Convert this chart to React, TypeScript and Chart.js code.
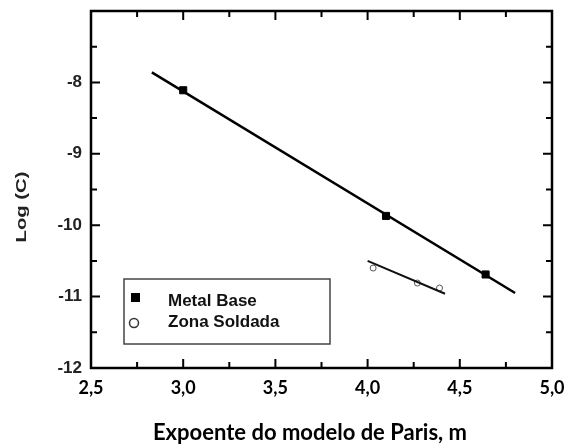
import React, { useEffect, useRef } from "react";
import { Chart, registerables } from "chart.js";

Chart.register(...registerables);

// Data
const metalBaseX = [3.0, 4.1, 4.64];
const metalBaseY = [-8.11, -9.87, -10.69];
const metalFitX = [2.83, 4.8];
const metalFitY = [-7.86, -10.95];
const zonaX = [4.03, 4.27, 4.39];
const zonaY = [-10.6, -10.81, -10.88];
const zonaFitX = [4.0, 4.42];
const zonaFitY = [-10.5, -10.96];

const xMin = 2.5, xMax = 5.0, xStep = 0.25;
const yMin = -12, yMax = -7, yStep = 0.5;
const legendLabels = ["Metal Base", "Zona Soldada"];
const xTitle = "Expoente do modelo de Paris, m";
const yTitle = "Log (C)";

const toPts = (xs: number[], ys: number[]) => xs.map((x, i) => ({ x, y: ys[i] }));

const framePlugin = {
  id: "frame",
  afterDraw(chart: any) {
    const { ctx, chartArea: a, scales } = chart;
    const xs = scales.x, ys = scales.y;
    ctx.save();
    ctx.strokeStyle = "#000";
    ctx.lineWidth = 2.5;
    ctx.strokeRect(a.left, a.top, a.right - a.left, a.bottom - a.top);
    ctx.lineWidth = 2;
    for (let v = xMin + xStep; v < xMax - 1e-6; v += xStep) {
      const px = xs.getPixelForValue(v);
      const major = Math.abs(v * 2 - Math.round(v * 2)) < 1e-6;
      const L = major ? 9 : 6;
      ctx.beginPath();
      ctx.moveTo(px, a.bottom); ctx.lineTo(px, a.bottom - L);
      ctx.moveTo(px, a.top); ctx.lineTo(px, a.top + L);
      ctx.stroke();
    }
    for (let v = yMin + yStep; v < yMax - 1e-6; v += yStep) {
      const py = ys.getPixelForValue(v);
      const major = Math.abs(v - Math.round(v)) < 1e-6;
      const L = major ? 9 : 6;
      ctx.beginPath();
      ctx.moveTo(a.left, py); ctx.lineTo(a.left + L, py);
      ctx.moveTo(a.right, py); ctx.lineTo(a.right - L, py);
      ctx.stroke();
    }
    // Legend box
    const lx = a.left + 33, ly = a.top + 268, lw = 206, lh = 65;
    ctx.lineWidth = 1.5;
    ctx.strokeStyle = "#444";
    ctx.fillStyle = "#fff";
    ctx.fillRect(lx, ly, lw, lh);
    ctx.strokeRect(lx, ly, lw, lh);
    ctx.fillStyle = "#000";
    ctx.fillRect(lx + 7, ly + 14, 9, 9);
    ctx.beginPath();
    ctx.lineWidth = 1.5;
    ctx.strokeStyle = "#333";
    ctx.arc(lx + 10, ly + 44, 4.5, 0, Math.PI * 2);
    ctx.stroke();
    ctx.fillStyle = "#111";
    ctx.font = "bold 17px 'Liberation Sans', Arial, sans-serif";
    ctx.textBaseline = "middle";
    ctx.textAlign = "left";
    ctx.fillText(legendLabels[0], lx + 44, ly + 22);
    ctx.fillText(legendLabels[1], lx + 44, ly + 43);
    // Titles
    ctx.fillStyle = "#000";
    ctx.font = "bold 22px Lato, 'Open Sans', sans-serif";
    ctx.textAlign = "center";
    ctx.fillText(xTitle, 310, 433);
    ctx.save();
    ctx.translate(22, 207);
    ctx.rotate(-Math.PI / 2);
    ctx.scale(1.35, 1);
    ctx.font = "bold 15px 'Liberation Sans', Arial, sans-serif";
    ctx.fillStyle = "#222";
    ctx.fillText(yTitle, 0, 0);
    ctx.restore();
    ctx.restore();
  },
};

export default function App() {
  const ref = useRef<HTMLCanvasElement | null>(null);
  useEffect(() => {
    document.body.style.margin = "0";
    const chart = new Chart(ref.current as HTMLCanvasElement, {
      type: "scatter",
      data: {
        datasets: [
          {
            type: "line",
            data: toPts(metalFitX, metalFitY),
            borderColor: "#000",
            borderWidth: 2.5,
            pointRadius: 0,
            showLine: true,
          },
          {
            type: "line",
            data: toPts(zonaFitX, zonaFitY),
            borderColor: "#111",
            borderWidth: 2,
            pointRadius: 0,
            showLine: true,
          },
          {
            label: legendLabels[0],
            data: toPts(metalBaseX, metalBaseY),
            pointStyle: "rect",
            pointRadius: 5,
            backgroundColor: "#000",
            borderColor: "#000",
          },
          {
            label: legendLabels[1],
            data: toPts(zonaX, zonaY),
            pointStyle: "circle",
            pointRadius: 3,
            backgroundColor: "rgba(255,255,255,0)",
            borderColor: "#555",
            borderWidth: 1,
          },
        ],
      },
      options: {
        animation: false,
        responsive: false,
        maintainAspectRatio: false,
        layout: { padding: { top: 11, right: 15, left: 0, bottom: 0 } },
        plugins: { legend: { display: false }, tooltip: { enabled: false } },
        scales: {
          x: {
            type: "linear",
            min: xMin,
            max: xMax,
            grid: { display: false, drawTicks: false },
            border: { display: false },
            ticks: {
              stepSize: xStep,
              autoSkip: false,
              maxRotation: 0,
              padding: 9,
              color: "#000",
              font: { family: "Lato, 'Open Sans', sans-serif", size: 18, weight: "bold" },
              callback: (v: any) => {
                const n = Number(v);
                return Math.abs(n * 2 - Math.round(n * 2)) < 1e-6 ? n.toFixed(1).replace(".", ",") : "";
              },
            },
            afterFit: (s: any) => {
              s.height = 77;
              s.paddingLeft = 0;
              s.paddingRight = 0;
            },
          },
          y: {
            type: "linear",
            min: yMin,
            max: yMax,
            grid: { display: false, drawTicks: false },
            border: { display: false },
            ticks: {
              stepSize: yStep,
              autoSkip: false,
              padding: 9,
              color: "#222",
              font: { family: "'Liberation Sans', Arial, sans-serif", size: 17, weight: "bold" },
              callback: (v: any) => {
                const n = Number(v);
                return Math.abs(n - Math.round(n)) < 1e-6 && n !== yMax ? String(n) : "";
              },
            },
            afterFit: (s: any) => {
              s.width = 91;
              s.paddingTop = 0;
              s.paddingBottom = 0;
            },
          },
        },
      },
      plugins: [framePlugin],
    } as any);
    return () => chart.destroy();
  }, []);
  return (
    <div style={{ width: 567, height: 445, background: "#fff" }}>
      <canvas ref={ref} width={567} height={445} style={{ display: "block" }} />
    </div>
  );
}
